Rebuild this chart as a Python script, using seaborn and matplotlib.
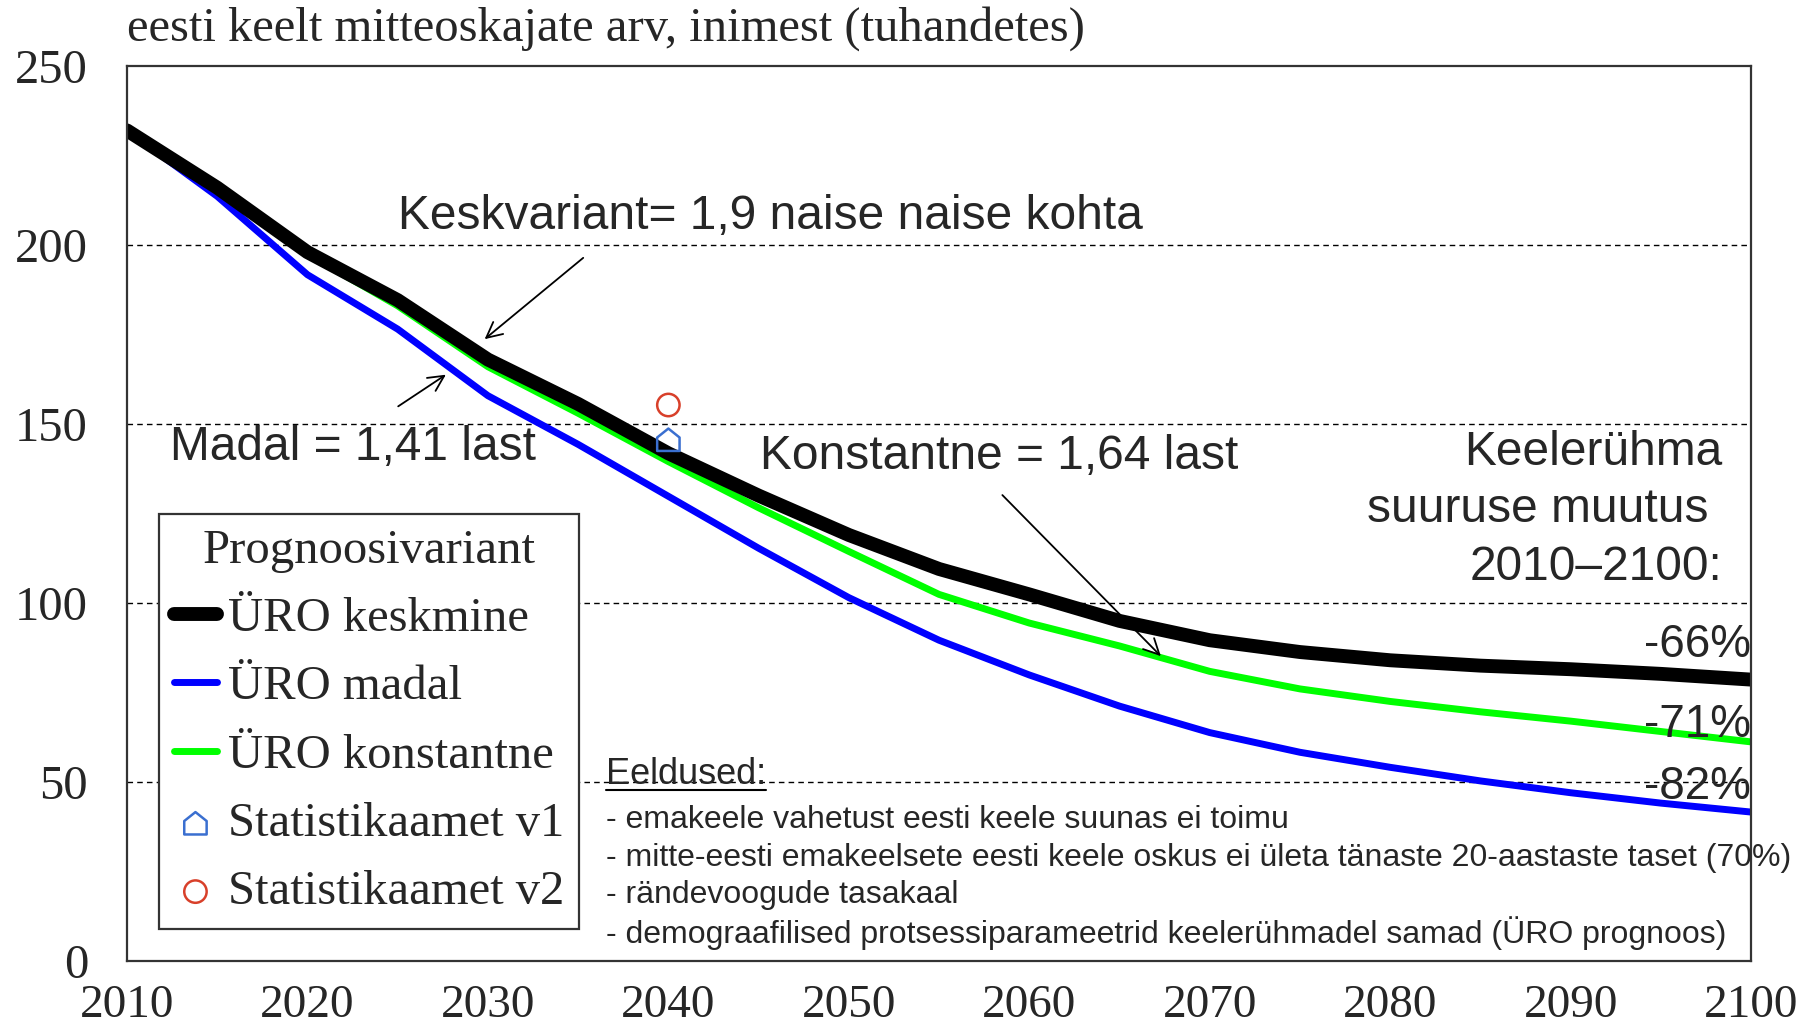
import matplotlib
matplotlib.use("Agg")
import matplotlib.pyplot as plt
import numpy as np
import pandas as pd
import seaborn as sns
from matplotlib.lines import Line2D
from matplotlib.path import Path

# projection values, thousands of people
years = list(range(2010, 2101, 5))
uro_keskmine = [232, 216, 198, 184.6, 168, 155.6, 141.8, 130, 119, 109.5,
                102.4, 95, 89.6, 86.3, 84, 82.5, 81.5, 80.2, 78.6]
uro_madal = [232, 213.6, 191.7, 176.5, 157.9, 144.3, 129.8, 115.3, 101.5, 89.6,
             79.9, 71.2, 63.8, 58.3, 54.1, 50.3, 47, 44.1, 41.6]
uro_konstantne = [232, 215, 197.5, 183, 166, 153, 139.5, 126.6, 114.4, 102.4,
                  94.4, 88, 80.9, 76, 72.5, 69.6, 67, 64.1, 61.2]
stat_years = [2040]
stat_v1 = [145.6]
stat_v2 = [155.3]

change_labels = ["-66%", "-71%", "-82%"]
assumptions = [
    "- emakeele vahetust eesti keele suunas ei toimu",
    "- mitte-eesti emakeelsete eesti keele oskus ei ületa tänaste 20-aastaste taset (70%)",
    "- rändevoogude tasakaal",
    "- demograafilised protsessiparameetrid keelerühmadel samad (ÜRO prognoos)",
]

sns.set_style("white")
plt.rcParams["font.family"] = ["Liberation Serif", "DejaVu Serif"]
SANS = ["Liberation Sans", "DejaVu Sans"]

fig = plt.figure(figsize=(18.09, 10.31), dpi=100)
ax = fig.add_axes([0.0702, 0.0679, 0.8978, 0.8681])

series = [
    ("ÜRO keskmine", uro_keskmine, "black", 10),
    ("ÜRO madal", uro_madal, "#0000ff", 5),
    ("ÜRO konstantne", uro_konstantne, "#00ff00", 5),
]
df = pd.DataFrame({"year": years})
for name, vals, color, lw in series:
    df[name] = vals
for name, vals, color, lw in [series[1], series[2], series[0]]:
    sns.lineplot(data=df, x="year", y=name, color=color, linewidth=lw,
                 ax=ax, label=name, solid_joinstyle="miter")

house = Path([(-1, -1), (1, -1), (1, 0.2), (0, 1), (-1, 0.2), (-1, -1)],
             [Path.MOVETO] + [Path.LINETO] * 4 + [Path.CLOSEPOLY])
st = pd.DataFrame({"year": stat_years, "v1": stat_v1, "v2": stat_v2})
sns.scatterplot(data=st, x="year", y="v1", marker=house, s=260, facecolor="none",
                edgecolor="#3a6fd0", linewidth=1.8, ax=ax, label="Statistikaamet v1", zorder=5)
sns.scatterplot(data=st, x="year", y="v2", marker="o", s=260, facecolor="none",
                edgecolor="#d8402a", linewidth=1.8, ax=ax, label="Statistikaamet v2", zorder=5)

ax.set_xlim(2010, 2100)
ax.set_ylim(0, 250)
ax.set_xticks(range(2010, 2101, 10))
ax.set_xticks(range(2015, 2100, 10), minor=True)
ax.set_yticks(range(0, 251, 50))
ax.tick_params(axis="x", which="both", direction="in", length=19, width=1.2,
               labelsize=34, pad=17, color="#333333")
ax.tick_params(axis="y", length=0, labelsize=35, pad=28)
for v in [50, 100, 150, 200]:
    ax.axhline(v, color="black", linestyle=(0, (4, 3)), linewidth=1.0, zorder=0.5)
for sp in ax.spines.values():
    sp.set_visible(True)
    sp.set_color("#333333")
    sp.set_linewidth(1.6)
ax.set_xlabel("")
ax.set_ylabel("")

fig.text(0.0702, 0.972, "eesti keelt mitteoskajate arv, inimest (tuhandetes)",
         fontsize=35, va="center", ha="left")

handles, labels = ax.get_legend_handles_labels()
order = ["ÜRO keskmine", "ÜRO madal", "ÜRO konstantne", "Statistikaamet v1", "Statistikaamet v2"]
hmap = dict(zip(labels, handles))
leg = ax.legend([hmap[k] for k in order], order, title="Prognoosivariant",
                loc="lower left", bbox_to_anchor=(0.0197, 0.0358), borderaxespad=0,
                fontsize=35, title_fontsize=35, frameon=True, fancybox=False,
                framealpha=1, edgecolor="#333333", handlelength=0.9,
                handletextpad=0.22, labelspacing=0.5, borderpad=0.3, markerscale=1.0)
leg.get_frame().set_linewidth(1.6)
leg.set_zorder(10)

# annotations
arrow = dict(arrowstyle="->", color="black", lw=1.3, mutation_scale=28)
ax.text(2025.0, 208, "Keskvariant= 1,9 naise naise kohta", family=SANS, fontsize=34.5,
        ha="left", va="center")
ax.annotate("", xy=(2029.7, 173.2), xytext=(2035.4, 196.9), arrowprops=arrow)
ax.text(2012.4, 143.3, "Madal = 1,41 last", family=SANS, fontsize=34.5, ha="left", va="center")
ax.annotate("", xy=(2027.8, 164.2), xytext=(2024.9, 154.5), arrowprops=arrow)
ax.text(2045.1, 140.8, "Konstantne = 1,64 last", family=SANS, fontsize=34.5, ha="left", va="center")
ax.annotate("", xy=(2067.4, 84.6), xytext=(2058.4, 130.7), arrowprops=arrow)
ax.text(2098.4, 126, "Keelerühma\nsuuruse muutus \n2010–2100:", family=SANS, fontsize=34.5,
        ha="right", va="center", multialignment="right", linespacing=1.36)

for lab, yv in zip(change_labels, [88.3, 66, 48.6]):
    ax.text(2100, yv, lab, family=SANS, fontsize=33, ha="right", va="center")

head = ax.text(2036.55, 52, "Eeldused:", family=SANS, fontsize=26, ha="left", va="center")
for line, yv in zip(assumptions, [39.4, 28.7, 18.4, 7.8]):
    ax.text(2036.55, yv, line, family=SANS, fontsize=23, ha="left", va="center")

fig.canvas.draw()
bb = head.get_window_extent()
inv = fig.transFigure.inverted()
(x0, y0), (x1, _) = inv.transform([(bb.x0, bb.y0 + 2), (bb.x1, bb.y0)])
fig.add_artist(Line2D([x0, x1], [y0, y0], color="black", lw=1.5, transform=fig.transFigure))

fig.savefig("out.png", dpi=100)
